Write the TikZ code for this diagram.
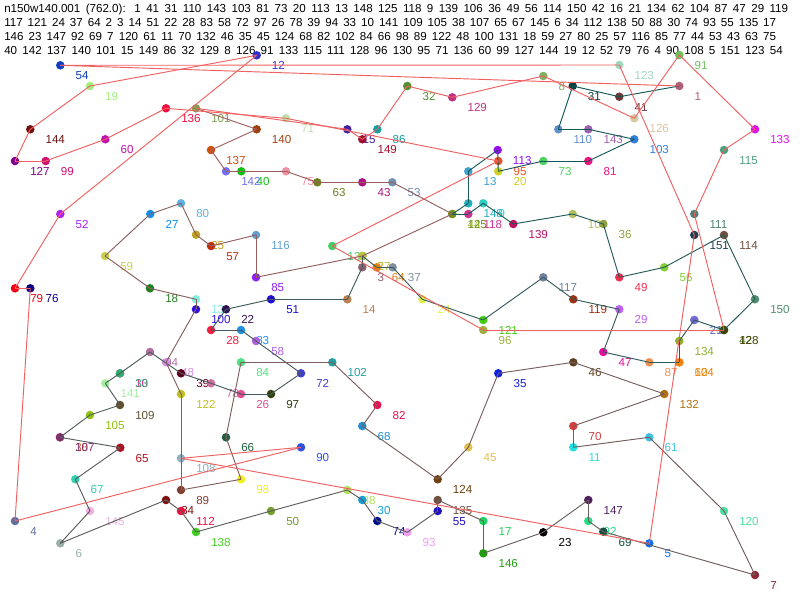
\documentclass[tikz,border=0pt]{standalone}
\usepackage{fontspec}
\setmainfont{Liberation Sans}
\definecolor{ecStart}{RGB}{16,88,88}
\definecolor{ecEnd}{RGB}{160,96,96}
\definecolor{ecRed}{RGB}{240,96,96}
\tikzset{
  dot/.style={circle,inner sep=0pt,minimum size=6.4pt,draw=none},
  lab/.style={inner sep=0pt,anchor=base west,font=\fontsize{8.7pt}{10pt}\selectfont},
  hdr/.style={inner sep=0pt,anchor=base west,font=\fontsize{8.7pt}{10pt}\selectfont},
  edge/.style={line width=0.7pt}
}
\def\nodelist{%
1/679.3/86/B06078,2/362.3/256/C8C030,3/362.3/267.3/906070,4/15/521/6070A0,5/649.3/543.3/1070F0,
6/60.3/543.3/98B0A8,7/755/575/902838,8/543.3/76/80B060,9/483.3/203.3/30D0C0,10/120/373.3/F01090,
11/573.3/447.3/20E0E0,12/256.7/55.3/3030D0,13/468.3/171.3/40A0D0,14/347.3/299.3/C08050,15/347.3/129.3/4020A0,
16/694.3/320/90E0B0,17/483.3/521/20D060,18/150/288.3/208020,19/90/86/A0F080,20/498.3/171.3/D0D020,
21/694.3/320/7868D8,22/226/309.3/301050,23/543.3/532.3/000000,24/422.3/299.3/E0F050,25/196/234.7/C0A020,
26/241/394/E05090,27/150.3/214/1090F0,28/211/330/F02040,29/619.3/309.3/C060F0,30/362.3/500/10A0E0,
31/572.7/86/104040,32/407.3/86/509030,33/120/373.3/30B070,34/166/500/801010,35/498.3/373.3/1020E0,
36/603.3/224/90A040,37/392.7/267.3/8090A0,38/60/437.3/D07040,39/181/373.3/600020,40/241.3/171.3/10C010,
41/619.3/96.7/703838,42/724/330/508020,43/362.3/182.3/B01080,44/452.3/214/A0C030,45/468.3/447.3/E0C050,
46/573.3/362.3/604020,47/603.3/352/E010A0,48/166/362.3/D090E0,49/619.3/277.3/F03050,50/271/511/70A030,
51/271/299.3/2010D0,52/60.3/214/B020F0,53/392.3/182.3/7090B0,54/60.3/65.3/1040C0,55/437.7/511/2010C0,
56/664.3/267.3/80D030,57/211/246/C03010,58/256/341/B060E0,59/105/256/C8D050,60/105.3/139.3/C010B0,
61/649.3/437.3/40C0E0,62/679.3/362.3/E0A020,63/317.3/182.3/708020,64/376.7/267.3/E08010,65/120.3/447.7/B01020,
66/226/437.3/206040,67/75.3/479.3/30D0B0,68/362.3/426/2090D0,69/603.3/531.7/105040,70/573.3/426/D04040,
71/286/118.3/C0E0B0,72/301/373.3/4040D0,73/543.3/161/50D060,74/377.3/521/001090,75/286/171.3/F090A0,
76/30.3/288.3/100080,77/362.3/256/C0C040,78/211/383.3/D070A0,79/15/288.3/F00010,80/181/203.3/60B0E0,
81/588.3/161/F01080,82/377.3/405/F01050,83/241/330/2090E0,84/241/362.3/50E080,85/256/277.3/9020F0,
86/377.3/129.3/10A0A0,87/649.3/362.3/F09050,88/347.3/490/B0E060,89/181/490/804030,90/301/447.3/3050E0,
91/679.3/55/70C060,92/588.3/521/20E080,93/407.3/532.3/F0A0F0,94/150/352/B070A0,95/498.3/161/F05020,
96/483.3/330/A0B040,97/271/394/304010,98/241/479.3/F0F020,99/45.7/161/D01070,100/196/309.3/3010E0,
101/196/108.3/80A050,102/332.3/362.3/20A0A0,103/634.3/139.3/3080E0,104/679.3/362.3/F08010,105/90/415/90C010,
106/572.7/214/B0C060,107/60/437.3/803070,108/181/458.3/90B0C0,109/120/405/605030,110/558.3/129.3/6090D0,
111/694.3/214/508070,112/181/511/F01040,113/497.7/150/9010F0,114/724/235/705040,115/724/150/50A080,
116/256/235/60A0D0,117/543.3/277.3/7080A0,118/468.3/214/D03090,119/573.3/299.3/A03010,120/724/511/50E0A0,
121/483.3/320/40D010,122/181/394/C0C020,123/619.3/65/A0D8C0,124/437.7/479.3/704010,125/452.3/214/709020,
126/634.3/118.3/D8C8A0,127/15/161/800090,128/724/330/404000,129/452.3/97.3/C03080,130/332.3/246/40D060,
131/196/299.3/80F0E0,132/664.3/394/B07010,133/755/129.3/E010F0,134/679.3/341/90B030,135/437.7/500/705040,
136/166/108.3/F01040,137/211/150/D05010,138/196/532/40D020,139/513.3/224/C01060,140/256.7/129.3/A04010,
141/105.3/383.3/A0F0A0,142/226/171.3/7070F0,143/588.3/129.3/A060B0,144/30.3/129.3/701010,145/90/511/F0B0E0,
146/483.3/553.3/20A010,147/588.3/500/502060,148/468.3/203.3/20B0C0,149/362.3/139.3/A01030,150/755/299.3/509070,
151/694.3/235/204050}
\def\tour{1,41,31,110,143,103,81,73,20,113,13,148,125,118,9,139,106,36,49,56,114,150,42,16,21,134,62,104,87,47,29,119,117,121,24,37,64,2,3,14,51,22,28,83,58,72,97,26,78,39,94,33,10,141,109,105,38,107,65,67,145,6,34,112,138,50,88,30,74,93,55,135,17,146,23,147,92,69,7,120,61,11,70,132,46,35,45,124,68,82,102,84,66,98,89,122,48,100,131,18,59,27,80,25,57,116,85,77,44,53,43,63,75,40,142,137,140,101,15,149,86,32,129,8,126,91,133,115,111,128,96,130,95,71,136,60,99,127,144,19,12,52,79,76,4,90,108,5,151,123,54}
\begin{document}
\begin{tikzpicture}[x=0.75pt,y=-0.75pt]
\useasboundingbox[fill=white] (0,0) rectangle (800,600);
% header
\node[hdr] (h1) at (4,12) {\hbox to 588pt{n150w140.001 (762.0): 1 41 31 110 143 103 81 73 20 113 13 148 125 118 9 139 106 36 49 56 114 150 42 16 21 134 62 104 87 47 29 119}};
\node[hdr] (h2) at (4,26) {\hbox to 579pt{117 121 24 37 64 2 3 14 51 22 28 83 58 72 97 26 78 39 94 33 10 141 109 105 38 107 65 67 145 6 34 112 138 50 88 30 74 93 55 135 17}};
\node[hdr] (h3) at (4,40) {\hbox to 579pt{146 23 147 92 69 7 120 61 11 70 132 46 35 45 124 68 82 102 84 66 98 89 122 48 100 131 18 59 27 80 25 57 116 85 77 44 53 43 63 75}};
\node[hdr] (h4) at (4,54) {\hbox to 584pt{40 142 137 140 101 15 149 86 32 129 8 126 91 133 115 111 128 96 130 95 71 136 60 99 127 144 19 12 52 79 76 4 90 108 5 151 123 54}};
% labels
\foreach \i/\x/\y/\c in \nodelist {
  \definecolor{tmp}{HTML}{\c}
  \node[lab,text=tmp] (l\i) at ([shift={(15,14.5)}]\x,\y) {\i};
}
% nodes
\foreach \i/\x/\y/\c in \nodelist {
  \definecolor{tmp}{HTML}{\c}
  \node[dot,fill=tmp] (n\i) at (\x,\y) {};
}
% tour edges
\foreach \b [count=\k, remember=\b as \a (initially 1)] in \tour {
  \ifnum\k>1
    \ifnum\k<119
      \pgfmathtruncatemacro\t{(\k-2)*100/116}
      \draw[edge,draw=ecEnd!\t!ecStart] (n\a.center) -- (n\b.center);
    \else
      \draw[edge,draw=ecRed] (n\a.center) -- (n\b.center);
    \fi
  \fi
}
\draw[edge,draw=ecRed] (n54.center) -- (n1.center);
\end{tikzpicture}
\end{document}
